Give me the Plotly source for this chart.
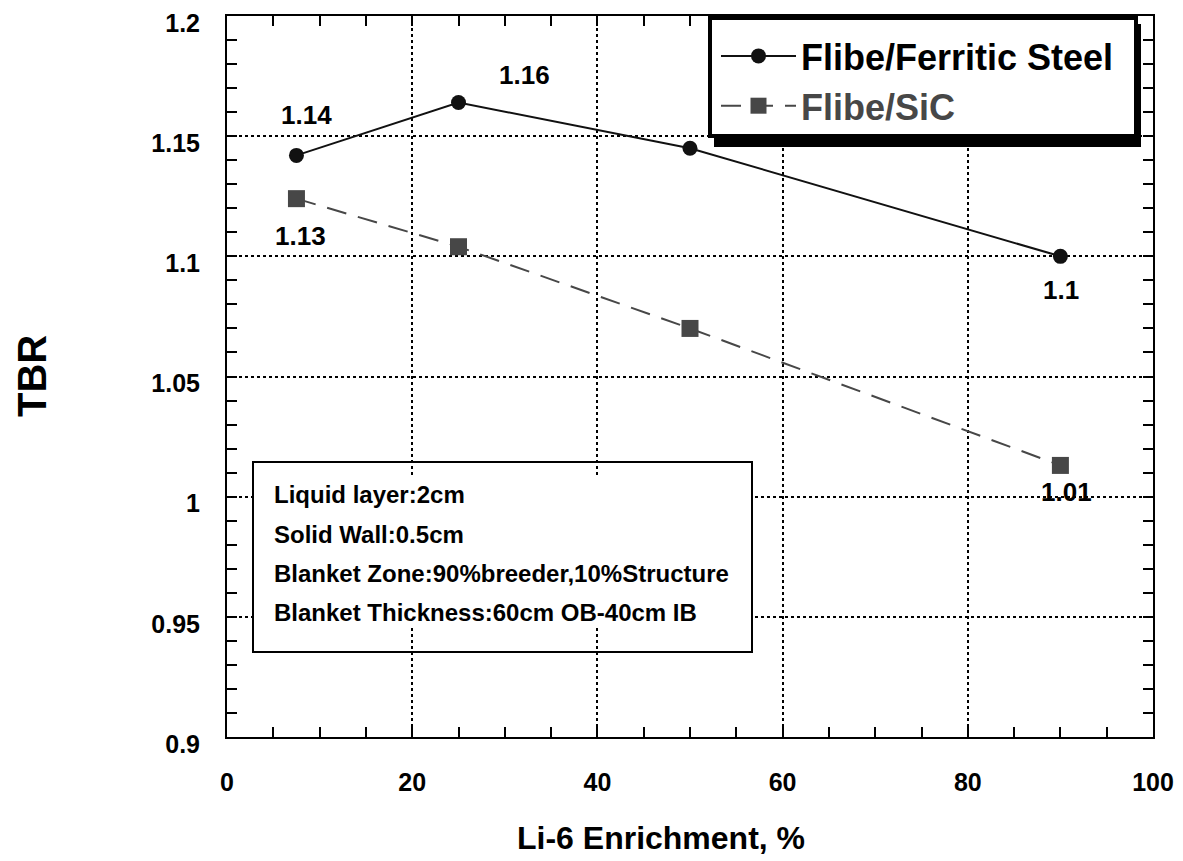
import plotly.graph_objects as go

# ---------------- data ----------------
enrichment = [7.5, 25, 50, 90]
tbr_ferritic = [1.142, 1.164, 1.145, 1.100]
tbr_sic = [1.124, 1.104, 1.070, 1.013]
ferritic_labels = ["1.14", "1.16", None, "1.1"]
sic_labels = ["1.13", None, None, "1.01"]
inset_lines = [
    "Liquid layer:2cm",
    "Solid Wall:0.5cm",
    "Blanket Zone:90%breeder,10%Structure",
    "Blanket Thickness:60cm OB-40cm IB",
]
x_ticks = [0, 20, 40, 60, 80, 100]
y_ticks = [0.9, 0.95, 1.0, 1.05, 1.1, 1.15, 1.2]
y_tick_text = ["0.9", "0.95", "1", "1.05", "1.1", "1.15", "1.2"]

# ---------------- geometry ----------------
OFF = 8  # page body margin
W, H = 1183 - OFF, 861 - OFF
L, R, T, B = 227 - OFF, 1153 - OFF, 16 - OFF, 737 - OFF
PW, PH = R - L, B - T


def px(x):
    return (x - OFF - L) / PW


def py(y):
    return (B - (y - OFF)) / PH


FONT = "Liberation Sans, Arial, sans-serif"
SIC_COLOR = "#474747"

fig = go.Figure()
fig.add_trace(go.Scatter(
    x=enrichment, y=tbr_ferritic, mode="lines+markers",
    name="Flibe/Ferritic Steel",
    line=dict(color="#111111", width=2),
    marker=dict(symbol="circle", size=15, color="#111111"),
))
fig.add_trace(go.Scatter(
    x=enrichment, y=tbr_sic, mode="lines+markers",
    name=f"<span style='color:{SIC_COLOR}'>Flibe/SiC</span>",
    line=dict(color=SIC_COLOR, width=2, dash="20px,12px"),
    marker=dict(symbol="square", size=17, color=SIC_COLOR),
))

annotations = []
ferr_offsets = [(10, -40), (66, -28), (0, 0), (1, 34)]
sic_offsets = [(4, 37), (0, 0), (0, 0), (6, 27)]
for xs, ys, labs, offs in ((enrichment, tbr_ferritic, ferritic_labels, ferr_offsets),
                           (enrichment, tbr_sic, sic_labels, sic_offsets)):
    for xv, yv, lab, (dx, dy) in zip(xs, ys, labs, offs):
        if lab:
            annotations.append(dict(x=xv, y=yv, xref="x", yref="y", text=lab, showarrow=False,
                                    xshift=dx, yshift=-dy,
                                    font=dict(family=FONT, size=26, color="black", weight="bold")))

for i, line in enumerate(inset_lines):
    annotations.append(dict(x=px(272), y=py(495 + i * 39), xref="paper", yref="paper",
                            xanchor="left", yanchor="middle", text=line, showarrow=False,
                            font=dict(family=FONT, size=24, color="black", weight="bold")))

annotations.append(dict(x=px(661), y=py(838), xref="paper", yref="paper", text="Li-6 Enrichment, %",
                        showarrow=False, xanchor="center", yanchor="middle",
                        font=dict(family=FONT, size=32, color="black", weight="bold")))
annotations.append(dict(x=px(32), y=py(376), xref="paper", yref="paper", text="TBR",
                        showarrow=False, textangle=-90, xanchor="center", yanchor="middle",
                        font=dict(family=FONT, size=40, color="black", weight="bold")))

shapes = [
    dict(type="rect", xref="paper", yref="paper", x0=px(254), x1=px(751), y0=py(627), y1=py(475),
         fillcolor="white", line=dict(width=0), layer="above"),
    dict(type="rect", xref="paper", yref="paper", x0=px(253), x1=px(752), y0=py(652), y1=py(462),
         fillcolor="rgba(0,0,0,0)", line=dict(color="black", width=2), layer="above"),
    dict(type="rect", xref="paper", yref="paper", x0=px(714), x1=px(1141), y0=py(147), y1=py(24),
         fillcolor="black", line=dict(width=0), layer="above"),
    dict(type="rect", xref="paper", yref="paper", x0=px(710), x1=px(1136), y0=py(136), y1=py(18),
         fillcolor="white", line=dict(color="black", width=4), layer="above"),
]

axis_common = dict(
    showline=True, linecolor="black", linewidth=2, mirror="allticks",
    ticks="inside", ticklen=10, tickwidth=2, tickcolor="black",
    showgrid=True, gridcolor="black", gridwidth=1.5, griddash="dot",
    zeroline=False, automargin=False,
    tickfont=dict(family=FONT, size=25, color="black", weight="bold"),
)

fig.update_layout(
    width=W, height=H,
    margin=dict(l=L, r=W - R, t=T, b=H - B, autoexpand=False),
    paper_bgcolor="white", plot_bgcolor="white",
    showlegend=True,
    legend=dict(x=px(716), y=py(26), xanchor="left", yanchor="top",
                bgcolor="rgba(0,0,0,0)", borderwidth=0, itemwidth=75,
                font=dict(family=FONT, size=36, color="black", weight="bold"),
                tracegroupgap=0),
    xaxis=dict(range=[0, 100], tickvals=x_ticks, ticklabelstandoff=22,
               minor=dict(dtick=5, ticks="inside", ticklen=10, tickwidth=2, tickcolor="black", showgrid=False),
               **axis_common),
    yaxis=dict(range=[0.9, 1.2], tickvals=y_ticks, ticktext=y_tick_text, ticklabelstandoff=20,
               ticklabelshift=7,
               minor=dict(dtick=0.01, tick0=0.9, ticks="inside", ticklen=10, tickwidth=2, tickcolor="black", showgrid=False),
               **axis_common),
    annotations=annotations,
    shapes=shapes,
)

fig.write_html("out.html")
